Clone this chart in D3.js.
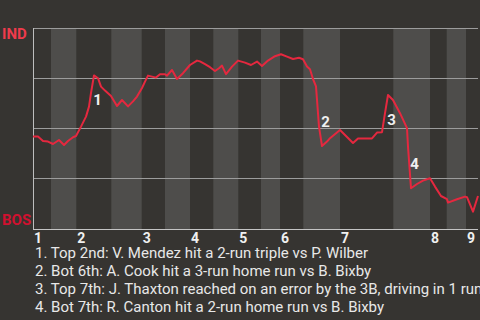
<!DOCTYPE html>
<html>
<head>
<meta charset="utf-8">
<script src="https://cdn.jsdelivr.net/npm/d3@7"></script>
<style>
  html, body { margin: 0; padding: 0; background: #363431; }
  svg { display: block; font-family: Roboto, "Noto Sans", sans-serif; }
</style>
</head>
<body>
<div id="chart"></div>
<script>
// play number along the game, and IND win probability (%) after that play
let plays = [0, 1, 2, 3, 4, 5.2, 6.2, 7, 8, 8.6, 9.6, 10.6, 11.2, 11.6, 12.2, 13, 13.6, 14.4, 15.6, 16.8,
  17.8, 19, 20, 20.8, 21.8, 22.4, 23, 23.8, 24.6, 25.4, 26.4, 26.8, 27.8, 28.8, 30, 31.4, 32.8, 33.4, 34.4, 35.4,
  36.4, 37.2, 37.8, 38.6, 39.8, 41, 42.4, 43.6, 44.8, 45.8, 47, 48.4, 49.6, 50.8, 52, 53.2, 54, 54.8, 55.4, 56,
  56.6, 57.2, 57.8, 58.8, 59.4, 61.4, 64, 65, 67.8, 68.8, 69.8, 70.4, 71, 72, 73.4, 74.8, 75, 75.6, 76.8, 78,
  79.4, 80.4, 81.6, 82.8, 83, 84.8, 86.4, 86.8, 88, 89];
let indWp = [45.7, 45.7, 43.5, 43.2, 42, 44, 41.5, 43.5, 45.4, 46, 50.7, 55.7, 60.7, 67.5, 76.3, 74.9, 70.7, 68.7, 66, 61,
  64, 60.8, 63.3, 65.7, 70, 73.2, 76.2, 75.7, 75.2, 76.9, 76.9, 76.2, 79, 74.5, 77.4, 81.5, 83.7, 83.3, 81.9, 80.4,
  78.5, 79.9, 81.2, 76.9, 80.7, 83.7, 82.7, 81.5, 83.2, 81, 83.7, 85.9, 86.9, 85.7, 84.5, 85.1, 84.4, 80.7, 79.4, 74.5,
  70.8, 50.7, 41, 43.2, 44.9, 49, 42.5, 44.8, 44.8, 47.7, 47.9, 57.4, 66.5, 64, 57.4, 49.9, 40.7, 19.9, 22, 23.7,
  24.9, 20.7, 16, 14.4, 12.7, 14.4, 15.7, 15.4, 8.2, 16];

// play where each half inning starts (top 1st ... top 9th)
let halfStarts = [0, 3.6, 8.66, 15.66, 21.74, 26.4, 31.4, 36.06, 41.06, 45.6, 49.4, 54.06, 61.4, 72.06, 79.4, 82.74, 86.6];
let lastPlay = 89;
let innings = ["1", "2", "3", "4", "5", "6", "7", "8", "9"];
let gridVals = [100, 75, 50, 25];

let keyPlays = [
  {n: 1, play: 12.2, text: "Top 2nd: V. Mendez hit a 2-run triple vs P. Wilber"},
  {n: 2, play: 57.8, text: "Bot 6th: A. Cook hit a 3-run home run vs B. Bixby"},
  {n: 3, play: 71,   text: "Top 7th: J. Thaxton reached on an error by the 3B, driving in 1 run"},
  {n: 4, play: 75.6, text: "Bot 7th: R. Canton hit a 2-run home run vs B. Bixby"}
];

let W = 480, H = 320;
let margin = {top: 28, right: 2, bottom: 92, left: 33};
let width = W - margin.left - margin.right;
let height = H - margin.top - margin.bottom;

let svg = d3.select("#chart").append("svg")
  .attr("width", W).attr("height", H);

svg.append("rect").attr("width", W).attr("height", H).attr("fill", "#363431");

let g = svg.append("g")
  .attr("transform", "translate(" + margin.left + "," + margin.top + ")");

let x = d3.scaleLinear().domain([0, lastPlay]).range([0, width]);
let y = d3.scaleLinear().domain([0, 100]).range([height, 0]);

// half inning bands, bottom halves lighter
let bands = halfStarts.map((s, i) => ({s: s, e: i < halfStarts.length - 1 ? halfStarts[i + 1] : lastPlay, i: i}));
g.selectAll(".band")
  .data(bands.filter(d => d.i % 2 == 1))
  .enter().append("rect")
  .attr("class", "band")
  .attr("x", d => x(d.s))
  .attr("y", 0)
  .attr("width", d => x(d.e) - x(d.s))
  .attr("height", height + 1)
  .attr("fill", "#4e4d4b");

// gridlines
g.selectAll(".grid")
  .data(gridVals)
  .enter().append("line")
  .attr("class", "grid")
  .attr("x1", 0).attr("x2", width)
  .attr("y1", d => Math.round(y(d)) + 0.5)
  .attr("y2", d => Math.round(y(d)) + 0.5)
  .attr("stroke", "#9c9c9c").attr("stroke-width", 1);

// axes lines
g.append("line")
  .attr("x1", 0.5).attr("x2", 0.5)
  .attr("y1", 0).attr("y2", height + 2)
  .attr("stroke", "#bdbdbd");
g.append("line")
  .attr("x1", 0).attr("x2", width)
  .attr("y1", height + 1.5).attr("y2", height + 1.5)
  .attr("stroke", "#c4c4c4");

// inning labels
g.selectAll(".inn")
  .data(innings)
  .enter().append("text")
  .attr("class", "inn")
  .attr("x", (d, i) => x(halfStarts[i * 2]) + 1)
  .attr("y", height + 14.7)
  .attr("fill", "#f0f0f0")
  .attr("font-size", 14)
  .attr("font-weight", "bold")
  .text(d => d);

// team labels
svg.append("text").attr("x", 2).attr("y", 39.3)
  .attr("fill", "#ef3b4c").attr("font-size", 15).attr("font-weight", "bold").text("IND");
svg.append("text").attr("x", 2).attr("y", 225)
  .attr("fill", "#d0112f").attr("font-size", 15).attr("font-weight", "bold").text("BOS");

// win probability line
let pts = plays.map((p, i) => ({p: p, v: indWp[i]}));
let line = d3.line().x(d => x(d.p)).y(d => y(d.v));
g.append("path")
  .datum(pts)
  .attr("d", line)
  .attr("fill", "none")
  .attr("stroke", "#e5283f")
  .attr("stroke-width", 2)
  .attr("stroke-linejoin", "round");

// key play markers
keyPlays.forEach(k => {
  let idx = plays.indexOf(k.play);
  let up = indWp[idx] > indWp[idx - 1];
  let yy = y(indWp[idx]) + (up ? 29.5 : -19);
  g.append("text")
    .attr("x", x(k.play) + 3.5)
    .attr("y", yy)
    .attr("text-anchor", "middle")
    .attr("fill", "#f0f0f0")
    .attr("font-size", 15)
    .attr("font-weight", "bold")
    .text(k.n);
});

// key play list
svg.selectAll(".note")
  .data(keyPlays)
  .enter().append("text")
  .attr("class", "note")
  .attr("x", 35)
  .attr("y", (d, i) => 258.3 + i * 18)
  .attr("fill", "#e8e8e8")
  .attr("font-size", 15)
  .text(d => d.n + ". " + d.text);
</script>
</body>
</html>
